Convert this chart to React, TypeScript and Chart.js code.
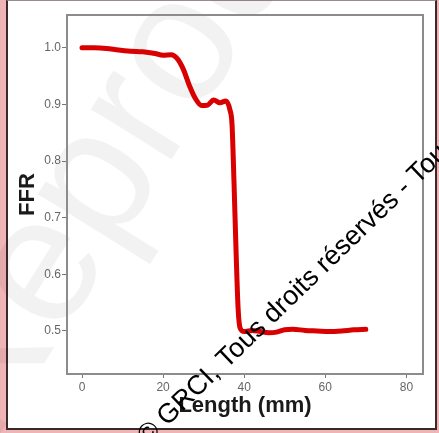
import React, { useEffect, useRef } from 'react';
import { Chart, registerables } from 'chart.js';

Chart.register(...registerables);

const lengthMm = [0, 3, 6, 9, 12, 15, 18, 20, 22, 23.5, 25, 26.5, 28, 29.5, 31, 32.5, 34, 35.5, 36.5, 37, 37.5, 38, 38.5, 39, 40, 42, 44, 46, 48, 50, 52, 55, 58, 61, 64, 67, 70];
const ffrValues = [1.0, 1.0, 0.999, 0.996, 0.994, 0.993, 0.99, 0.987, 0.988, 0.981, 0.962, 0.933, 0.91, 0.898, 0.899, 0.908, 0.903, 0.906, 0.89, 0.865, 0.76, 0.64, 0.54, 0.505, 0.499, 0.501, 0.499, 0.497, 0.498, 0.502, 0.503, 0.501, 0.5, 0.499, 0.5, 0.502, 0.503];
const xTickValues = [0, 20, 40, 60, 80];
const yTickValues = [0.5, 0.6, 0.7, 0.8, 0.9, 1.0];
const xTitle = 'Length (mm)';
const yTitle = 'FFR';
const copyrightText = '© GRCI, Tous droits réservés - Toute reproduction interdite';
const backgroundText = 'Reproduction interdite';

const FONT = '"Liberation Sans", Arial, sans-serif';

const decorPlugin = {
  id: 'decor',
  beforeDraw(chart: any) {
    const ctx = chart.ctx;
    ctx.save();
    ctx.translate(-10, 450);
    ctx.rotate((-58 * Math.PI) / 180);
    ctx.fillStyle = 'rgba(0,0,0,0.05)';
    ctx.font = `180px ${FONT}`;
    ctx.textBaseline = 'alphabetic';
    ctx.fillText(backgroundText, 0, 0);
    ctx.restore();
  },
  beforeDatasetsDraw(chart: any) {
    const { ctx, chartArea } = chart;
    ctx.save();
    ctx.strokeStyle = '#8c8c8c';
    ctx.lineWidth = 2;
    ctx.strokeRect(chartArea.left, chartArea.top, chartArea.right - chartArea.left, chartArea.bottom - chartArea.top);
    ctx.restore();
  },
  afterDraw(chart: any) {
    const ctx = chart.ctx;
    ctx.save();
    ctx.translate(147.4, 445.7);
    ctx.rotate((-44 * Math.PI) / 180);
    ctx.fillStyle = '#000';
    ctx.font = `27px ${FONT}`;
    ctx.textBaseline = 'alphabetic';
    ctx.fillText(copyrightText, 0, 0);
    ctx.restore();
  },
};

export default function App() {
  const canvasRef = useRef<HTMLCanvasElement | null>(null);

  useEffect(() => {
    if (!canvasRef.current) return;
    const points = lengthMm.map((x, i) => ({ x, y: ffrValues[i] }));
    const chart = new Chart(canvasRef.current, {
      type: 'line',
      data: {
        datasets: [
          {
            data: points,
            borderColor: '#d80000',
            borderWidth: 5,
            pointRadius: 0,
            fill: false,
            cubicInterpolationMode: 'monotone',
            borderCapStyle: 'round',
            borderJoinStyle: 'round',
          },
        ],
      },
      options: {
        animation: false,
        responsive: false,
        maintainAspectRatio: false,
        layout: { padding: { left: 0, top: 15, right: 16, bottom: 0 } },
        plugins: { legend: { display: false }, tooltip: { enabled: false } },
        scales: {
          x: {
            type: 'linear',
            min: -3.7,
            max: 84.1,
            afterBuildTicks: (s: any) => {
              s.ticks = xTickValues.map((v) => ({ value: v }));
            },
            afterFit: (s: any) => {
              s.height = 59;
            },
            grid: { drawOnChartArea: false, drawTicks: true, tickLength: 4, color: '#777', lineWidth: 1 },
            border: { display: false },
            ticks: { color: '#666', font: { size: 12, family: FONT }, padding: 2, maxRotation: 0, callback: (v: any) => String(v) },
            title: { display: true, text: xTitle, color: '#1a1a1a', font: { size: 22, weight: 'bold', family: FONT }, padding: { top: 0, bottom: 14 } },
          },
          y: {
            type: 'linear',
            min: 0.424,
            max: 1.058,
            afterBuildTicks: (s: any) => {
              s.ticks = yTickValues.map((v) => ({ value: v }));
            },
            afterFit: (s: any) => {
              s.width = 67;
            },
            grid: { drawOnChartArea: false, drawTicks: true, tickLength: 5, color: '#777', lineWidth: 1 },
            border: { display: false },
            ticks: { color: '#666', font: { size: 12, family: FONT }, padding: 1, callback: (v: any) => Number(v).toFixed(1) },
            title: { display: true, text: yTitle, color: '#1a1a1a', font: { size: 22, weight: 'bold', family: FONT }, padding: { top: 15, bottom: 0 } },
          },
        },
      },
      plugins: [decorPlugin],
    } as any);
    return () => chart.destroy();
  }, []);

  return (
    <div style={{ position: 'fixed', left: 0, top: 0, width: 439, height: 433, background: '#efb4b6', overflow: 'hidden' }}>
      <div
        style={{
          position: 'absolute',
          left: 6,
          top: 0,
          width: 431,
          height: 430,
          boxSizing: 'border-box',
          background: '#fff',
          borderLeft: '2px solid #3b2828',
          borderRight: '2px solid #3b2828',
          borderBottom: '2px solid #3b2828',
          borderTop: '1px solid #9a8c8c',
        }}
      />
      <canvas ref={canvasRef} width={439} height={433} style={{ position: 'absolute', left: 0, top: 0, width: 439, height: 433 }} />
    </div>
  );
}
